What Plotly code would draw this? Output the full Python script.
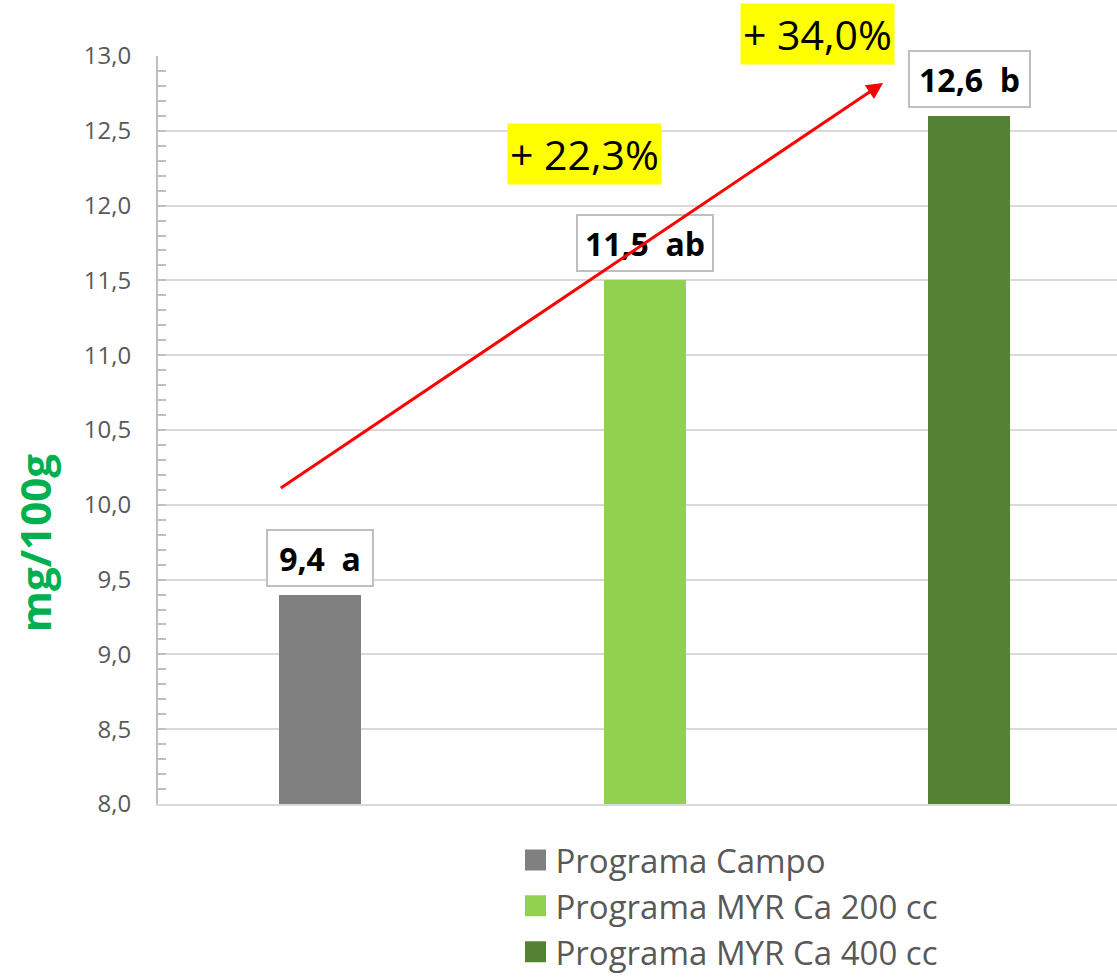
import plotly.graph_objects as go

categories = ["Programa Campo", "Programa MYR Ca 200 cc", "Programa MYR Ca 400 cc"]
values = [9.4, 11.5, 12.6]
letters = ["a", "ab", "b"]
colors = ["#808080", "#92D050", "#548235"]
pct_labels = ["+ 22,3%", "+ 34,0%"]
y_ticks = [8.0, 8.5, 9.0, 9.5, 10.0, 10.5, 11.0, 11.5, 12.0, 12.5, 13.0]
y_title = "mg/100g"

FONT = "Open Sans"
fig = go.Figure()

for i, (cat, v, c) in enumerate(zip(categories, values, colors)):
    fig.add_trace(go.Bar(x=[i], y=[v], width=0.253, marker=dict(color=c, line=dict(width=0)),
                         name=cat, showlegend=False, hoverinfo="skip"))

for cat, c in zip(categories, colors):
    fig.add_trace(go.Scatter(x=[None], y=[None], mode="markers", name=cat,
                             marker=dict(symbol="square", size=16, color=c, line=dict(color=c, width=5))))

# data labels
for i, (v, l) in enumerate(zip(values, letters)):
    txt = f"{v:.1f}".replace(".", ",") + "\u00a0\u00a0" + l
    fig.add_annotation(x=i, y=v, text=f"<b>{txt}</b>", showarrow=False, yanchor="bottom", yshift=8,
                       font=dict(family=FONT, size=32, color="black"), bgcolor="white",
                       bordercolor="#bfbfbf", borderwidth=2, borderpad=3,
                       width=len(txt) * 15 + 8, height=48)

# red arrow
fig.add_annotation(x=1.735, y=12.82, ax=-0.126, ay=10.106, xref="x", yref="y", axref="x", ayref="y",
                   text="", showarrow=True, arrowhead=2, arrowsize=1.1, arrowwidth=3, arrowcolor="#ff0000")

# percentage labels
fig.add_annotation(x=0.8136, y=12.348, xref="x", yref="y", text=pct_labels[0], showarrow=False,
                   xanchor="center", yanchor="middle",
                   bgcolor="#ffff00", borderpad=2, font=dict(family=FONT, size=41, color="black"))
fig.add_annotation(x=1.533, y=(13.15 - 8) / 5, xref="x", yref="paper", text=pct_labels[1], showarrow=False,
                   xanchor="center", yanchor="middle",
                   bgcolor="#ffff00", borderpad=2, font=dict(family=FONT, size=41, color="black"))

# y axis title
fig.add_annotation(x=-0.128, y=9.745, xref="paper", yref="y", text=f"<b>{y_title}</b>", textangle=-90,
                   xanchor="center", yanchor="middle",
                   showarrow=False, font=dict(family=FONT, size=42, color="#00B050"))

fig.update_layout(
    width=1117, height=980,
    margin=dict(l=158, r=0, t=56, b=176),
    paper_bgcolor="white", plot_bgcolor="white",
    separators=", ",
    bargap=0,
    font=dict(family=FONT),
    showlegend=True,
    legend=dict(x=0.3728, y=-0.0374, xanchor="left", yanchor="top",
                font=dict(family=FONT, size=33, color="#595959"), itemwidth=30),
    xaxis=dict(range=[-0.5, 2.456], showticklabels=False, showgrid=False, zeroline=False,
               showline=True, linecolor="#d9d9d9", linewidth=1.5, ticks="", automargin=False),
    yaxis=dict(range=[8, 13], tickvals=y_ticks, tickformat=".1f", showgrid=True, gridcolor="#d9d9d9",
               gridwidth=1.5, zeroline=False, showline=True, linecolor="#bfbfbf", linewidth=2,
               ticks="inside", ticklen=8, tickcolor="#bfbfbf", tickwidth=1.5, ticklabelstandoff=20,
               tickfont=dict(family=FONT, size=24, color="#595959"), automargin=False,
               minor=dict(dtick=0.1, ticks="inside", ticklen=8, tickcolor="#bfbfbf", tickwidth=1.5, showgrid=False)),
)

fig.write_html("out.html", config={"displayModeBar": False},
               post_script="document.body.style.margin='0';document.body.style.overflow='hidden';")
